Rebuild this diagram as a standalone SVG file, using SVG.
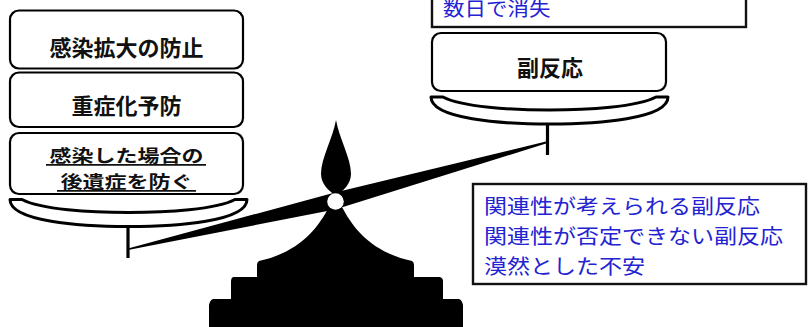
<svg xmlns="http://www.w3.org/2000/svg" width="809" height="327" viewBox="0 0 809 327">
  <style>
    .box { fill: #ffffff; stroke: #000000; stroke-width: 2.2; }
    .note { fill: #ffffff; stroke: #111111; stroke-width: 2.4; }
    .label { font-family: "Noto Sans CJK JP", "Noto Sans", sans-serif; font-weight: 700; font-size: 22px; fill: #111111; text-anchor: middle; }
    .blue { font-family: "Noto Sans CJK JP", "Noto Sans", sans-serif; font-size: 23px; fill: #2323d2; }
    .pan { fill: #ffffff; stroke: #000000; stroke-width: 3; stroke-linejoin: round; }
    .rod { stroke: #000000; stroke-width: 3.2; }
    .ul { stroke: #111111; stroke-width: 1.8; }
  </style>
  <defs>
    <!-- shallow bowl of a scale pan, centred on x=0, rim at y=0 -->
    <path id="panShape" d="M -118.5,0 L -106.5,0 C -88,10 -38,13 0,13 C 38,13 88,10 106.5,0 L 118.5,0 C 118.5,22 48,27 0,27 C -48,27 -118.5,22 -118.5,0 Z"/>
  </defs>
  <rect width="809" height="327" fill="#ffffff"/>

  <!-- balance: base, beam, finial, pivot, pans -->
  <g id="balance">
    <path d="M 329,207 C 318,228 300,252 259,261 Q 257,262 257,265 L 257,277 L 233,277 Q 231,278 231,281 L 231,299 L 213,299 Q 210,300 209,305 L 209,327 L 463,327 L 463,305 Q 462,300 459,299 L 443,299 L 443,281 Q 443,278 440,277 L 414,277 L 414,265 Q 414,262 412,261 C 371,252 353,228 342,207 Z" fill="#000000"/>
    <path d="M 128,248.5 L 335,192.5 L 546,141.5 L 546,143.5 L 335,209.5 L 128,250 Z" fill="#000000"/>
    <path d="M 336,120 C 333,138 321,158 321,174 C 321,184 329,191 336,196 C 343,191 351,184 351,174 C 351,158 339,138 336,120 Z" fill="#000000"/>
    <circle cx="335.5" cy="201.5" r="8.3" fill="#ffffff"/>
    <line class="rod" x1="128" y1="226" x2="128" y2="258"/>
    <line class="rod" x1="547.5" y1="123" x2="547.5" y2="155"/>
    <use href="#panShape" class="pan" transform="translate(128.5,199.5)"/>
    <use href="#panShape" class="pan" transform="translate(549.5,97)"/>
  </g>

  <!-- benefits on the left pan -->
  <g id="node-spread">
    <rect class="box" x="10" y="10.5" width="233" height="58" rx="9"/>
    <text class="label" x="126.5" y="55.5">感染拡大の防止</text>
  </g>
  <g id="node-severe">
    <rect class="box" x="10" y="72.5" width="233" height="54.5" rx="9"/>
    <text class="label" x="126.5" y="114">重症化予防</text>
  </g>
  <g id="node-sequelae">
    <rect class="box" x="10" y="133" width="233" height="61" rx="9"/>
    <text class="label" transform="translate(126.5,162) scale(1,0.78)">感染した場合の</text>
    <text class="label" transform="translate(126.5,187.5) scale(1,0.78)">後遺症を防ぐ</text>
    <line class="ul" x1="46" y1="164.8" x2="206" y2="164.8"/>
    <line class="ul" x1="57" y1="190.8" x2="196" y2="190.8"/>
  </g>

  <!-- risks on the right pan -->
  <g id="node-side-effect">
    <rect class="box" x="432" y="33" width="234" height="58" rx="9"/>
    <text class="label" x="550" y="76">副反応</text>
  </g>
  <g id="note-short">
    <rect class="note" x="432" y="-4" width="314" height="31"/>
    <text class="blue" transform="translate(443,16) scale(1,0.9)" style="font-size:21.5px">数日で消失</text>
  </g>
  <g id="note-concerns">
    <rect class="note" x="473" y="184" width="333" height="100"/>
    <text class="blue" transform="translate(484,214) scale(1,0.9)">関連性が考えられる副反応</text>
    <text class="blue" transform="translate(484,244) scale(1,0.9)">関連性が否定できない副反応</text>
    <text class="blue" transform="translate(484,273.5) scale(1,0.9)">漠然とした不安</text>
  </g>
</svg>
